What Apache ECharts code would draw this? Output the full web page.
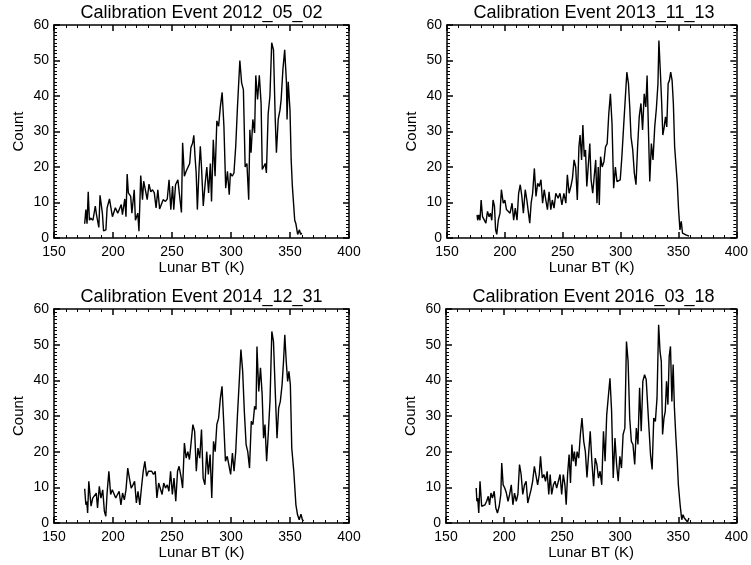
<!DOCTYPE html>
<html>
<head>
<meta charset="utf-8">
<script src="https://cdn.jsdelivr.net/npm/echarts@6/dist/echarts.min.js"></script>
<style>
  html, body { margin: 0; padding: 0; background: #fff; }
  #main { width: 751px; height: 565px; }
</style>
</head>
<body>
<div id="main"></div>
<script>
// panel titles
var titles = ['Calibration Event 2012_05_02', 'Calibration Event 2013_11_13',
              'Calibration Event 2014_12_31', 'Calibration Event 2016_03_18'];
var xTicks = [150, 400, 50];   // min, max, step (Lunar BT, K)
var yTicks = [0, 60, 10];      // min, max, step (Count)

// [Lunar BT (K), Count]
var ev2012 = [[176,4],[177,8],[178,4],[179,13],[180,5],[181,5.6],[183,5],[185,9],[186,6.6],[188,3],[189,12],[191,7],[192,2],[194,2.3],[195,8.5],[197,11],[199.5,6],[202,8.5],[204,7],[207,9.4],[208,6.6],[210,11],[211,6],[212,18],[213,12.7],[215,11.7],[216,7],[218,13.6],[219,5],[221,7],[222,1.9],[223.5,17.6],[225,10.8],[226,16],[227.5,15.5],[229,10.8],[230.5,15.2],[232,13],[233.5,13.6],[235,12.7],[236.5,8.5],[238,13.6],[239.5,8.2],[241,8],[242.5,10.8],[244.5,10.3],[246,11],[247.5,16.4],[249,8],[250.5,14.6],[251.5,8],[253,15],[255,16.4],[256.5,11.7],[258,7.2],[259,26.8],[260.5,17.4],[262,18.8],[263.5,18.3],[265,21],[266,25.4],[267.5,26.8],[268.5,28.9],[269.5,23],[270.5,18.3],[271.5,8],[273,20],[274,25.8],[275,20],[276.5,9],[278,15],[279.5,20],[281,12.7],[282.5,21],[283.5,10.3],[285,27.7],[286.5,17.4],[288,33],[289.5,31.5],[291,37],[292.5,41],[294,31.5],[295.5,14],[297,18.8],[298.5,12.2],[299.5,18.3],[301,17.4],[302.5,18.3],[304,25.8],[305.5,37],[307.5,50],[309,43.7],[310.5,41.8],[312,20],[313.5,21],[315,10.8],[316,30.5],[317,24],[318.5,33.4],[320,29.6],[321,45.8],[322.5,39],[324,45.8],[325.5,38],[326.5,19.3],[329,21],[330,18.3],[331.5,35],[333,40],[334.5,55],[336,53],[337.5,33.4],[338.5,24],[340,33.4],[341.5,36],[342.5,39],[344,47.5],[345.5,53],[347,43.7],[347.5,33.4],[348.5,44],[350,36],[351,22],[352,14.6],[354,5],[355,4],[356.5,1],[358,2.3],[359,1],[360,1.4]];

var ev2013 = [[176,6.5],[176.5,5],[177.5,6.5],[178.5,5],[179.5,10.7],[180.7,6],[182,5.6],[183.6,4.2],[185,7.5],[186.4,6],[187.5,7],[188.7,5],[189.8,10.7],[191,9],[192,2.3],[193,1],[194.3,5],[195.8,7],[197,13.6],[198.6,9.8],[200,10.7],[201.4,8],[202.8,8.4],[204.5,7],[206.2,9.8],[207.6,5],[209,8.4],[210.5,5],[211.9,12.6],[213.3,15],[214.7,11.7],[216,7],[217.6,13.6],[219,10.7],[220.4,7],[221.5,4.2],[222.7,9.8],[224,12.6],[225.5,19.6],[226.9,11.7],[228.3,15.4],[229.7,14.5],[231.2,16.4],[232.6,9.8],[234,13.6],[235.4,10.7],[236.8,8],[238.2,13],[239.7,8],[241,10.7],[242.5,8.4],[244,12.6],[246,11.2],[247.6,12.6],[249.3,9.3],[251,12.6],[252.7,9.8],[254,17.8],[255.5,12.6],[257,14.5],[258.4,16.8],[259.8,22],[261.2,20],[262.6,10.7],[264,25.7],[265,29],[266.3,22],[267.4,31.8],[268.6,22.9],[269.7,24.8],[270.8,14.5],[272.2,21],[273.4,26.6],[274.5,16.4],[275.9,12.6],[277.3,13],[278.5,22],[279.6,9.8],[280.7,20],[281.6,9.3],[282.7,22.9],[284.1,20],[285.6,21.5],[287,25.7],[288.4,26.6],[289.8,35],[291.2,40.6],[292.6,32.2],[294,14],[295.5,20],[296.9,15.9],[298.3,15.9],[299.7,16.4],[301.1,22.9],[302.6,31.3],[304,31.3],[305.4,46.7],[306.8,43.5],[307.9,36.9],[309,28.5],[310.5,24.8],[311.9,18.2],[313.3,15],[314.7,25.7],[316.1,34.1],[317.6,37.9],[319,30.4],[320.4,40.6],[321.8,36.9],[322.9,45.8],[324,31.3],[325.2,15.9],[326.6,26.6],[328,22],[329.5,31.3],[330.9,36.4],[332.3,43.5],[333.1,55.6],[334.3,47.2],[335.4,38.8],[336.5,29],[337.7,31.3],[338.8,34.1],[339.9,31.3],[341.1,43.5],[342.2,44.4],[343.3,46.7],[344.5,44.4],[345.6,37.9],[346.7,25.7],[347.9,25.2],[349,15.4],[350.1,8],[351.3,2.3],[352.4,4.7],[353.5,1.4],[355.2,1.9],[356.4,0.9],[358,1.4],[359.2,0.5]];

var ev2014 = [[176,9.6],[177,5.1],[177.8,6],[178.5,2.8],[179.5,11.7],[180.5,8],[181.4,4.7],[182.8,7],[184.3,6.5],[185.8,8.4],[186.9,4.2],[188.4,10.3],[189.8,7],[191.3,9.3],[192.7,3.3],[193.9,1.9],[195,8.4],[196.5,14.5],[198,8],[199.4,9.3],[200.9,9.8],[202.3,7],[203.8,7],[205.2,8.9],[206.7,5.1],[208.1,8.4],[209.6,6.5],[211,9.3],[212.5,15.4],[213.9,12.6],[215.4,9.8],[216.9,10.7],[218.3,11.7],[219.8,5.6],[221.2,8.9],[222.7,5.1],[224.1,9.8],[225.6,14.5],[227,17.3],[228.5,13.1],[230,14.5],[231.4,14],[232.8,14.5],[234.3,13.6],[235.8,14.5],[237.2,7],[238.7,11.2],[240.1,10.7],[241.6,8],[243,11.2],[244.5,9.8],[246,10.7],[247.4,8.9],[248.8,14.5],[250.3,8],[251.7,12.6],[253.2,6.1],[254.7,14.5],[256,15.9],[257.6,13.1],[259,9.8],[260.5,22.4],[262,18.2],[263.4,20],[264.8,17.8],[266.3,22.9],[267.7,27.6],[269.2,25.7],[270.6,14.5],[272,21],[273.5,18.2],[275,26.2],[276.4,12.6],[277.9,10.7],[279.4,20],[280.8,13.6],[282.3,19.2],[283.7,7],[285.2,22.9],[286.6,20],[288,27.6],[289.5,29.4],[291,35],[292.4,38.3],[293.9,27.6],[295.3,17.3],[296.8,18.7],[298.3,18.2],[299.7,13.6],[301.2,19.6],[302.6,14.5],[304,20],[305.5,30.4],[307,39.7],[308.4,48.6],[309.9,42.5],[311.3,31.3],[312.8,22],[314.2,20],[315.7,15.4],[317.2,28.5],[318.6,27.6],[320,32.7],[321.2,31.8],[322,49.5],[323.5,36.9],[325,43.5],[326.4,36],[327.6,23.8],[328.8,27.6],[330.2,17.3],[331.7,25.7],[333.1,34.6],[334.6,53.7],[336,50.9],[337.5,36.9],[339,23.8],[340.4,32.2],[341.8,34.1],[343.3,38.8],[344.5,45.3],[345.6,52.8],[346.8,45.3],[348,39.7],[349.1,42.5],[350.3,38.8],[351.5,21],[353.2,14.5],[355,5.1],[356.4,2.3],[357.8,0.9],[359.3,2.5],[360.5,0.9],[361.5,0.6]];

var ev2016 = [[176,9.8],[176.6,6.1],[177.3,7],[178.2,2.8],[179.3,11.7],[180.7,4.7],[182.2,4.7],[183.6,5.1],[185,6.1],[186.4,7.5],[187.5,5.1],[188.7,8.4],[190,7],[191.5,8.9],[192.9,4.2],[194.3,2.8],[195.8,4.7],[197.2,8],[198,16.8],[199.2,10.7],[200.6,9.8],[202,8.4],[203.4,6.1],[204.8,8],[206.2,10.7],[207.6,5.1],[209,8.4],[210.5,6.1],[211.9,8],[213.3,16.4],[214.7,13.6],[216.1,8],[217.6,10.7],[219,11.7],[220.4,5.6],[221.8,6.1],[223.2,9.3],[224.6,11.7],[226.1,15.9],[227.5,15.9],[228.9,10.7],[230.3,13.6],[231.4,18.7],[232.9,12.6],[234.3,13.6],[235.7,11.7],[237.1,14.5],[238.5,8],[239.7,13.6],[241,8],[242.5,10.7],[243.9,11.7],[245.3,9.8],[246.7,9.8],[248.2,13.6],[249.6,8],[251,13.6],[252.4,10.7],[253.5,5.1],[254.7,13.6],[256,19.2],[257.2,11.2],[258.4,22],[259.5,17.3],[260.6,20],[261.8,15.9],[262.9,20],[264.3,18.2],[265.7,24.8],[267.1,29.4],[268.6,22.9],[270,20],[271.4,12.8],[272.8,12.8],[274.2,25.7],[275.6,17.3],[277.1,10.3],[278.5,18.2],[279.9,16.4],[281.3,12.6],[282.7,14.5],[284.1,10.7],[285.6,25.7],[287,17.3],[288.4,30.4],[289.8,30.4],[291.2,40.6],[292.6,31.3],[294,12.6],[295.5,23.8],[296.9,16.4],[298.3,11.7],[299.7,18.7],[301.1,15.4],[302.5,24.8],[304,26.6],[305.4,50.9],[306.8,45.3],[308.2,29.4],[309.6,22.9],[311,22],[312.5,16.4],[313.9,26.6],[315.3,22],[316.7,37.9],[318.1,25.7],[319.5,39.7],[321,41.6],[322.4,40.2],[323.5,40.6],[324.6,27.6],[326.1,19.2],[327.5,15],[328.9,29.4],[330.3,28.5],[331.7,35],[333.1,55.6],[334.3,48.1],[335.4,45.3],[336.5,24.8],[337.7,29.4],[338.8,31.3],[339.9,39.7],[341.1,33.2],[342.2,46.7],[343.3,49.5],[344.5,34.1],[345.6,44.4],[346.7,32.2],[347.9,24.3],[349,18.2],[350.1,10.7],[351.6,5.1],[353,0.9],[354.1,2.3],[355.2,1.4],[356.4,1.9],[358,0.3],[359.2,1.4]];

var panels = [ev2012, ev2013, ev2014, ev2016];

var font = '"Liberation Sans", Arial, sans-serif';
var grids = [
    {left: 54,  top: 25,  width: 295, height: 213},
    {left: 447, top: 25,  width: 294, height: 213},
    {left: 54,  top: 309, width: 295, height: 214},
    {left: 446, top: 309, width: 295, height: 214}
];

var lineBlack = {color: '#000', width: 1.5};
function axisCommon(ext, minorSplit) {
    return {
        type: 'value', min: ext[0], max: ext[1], interval: ext[2],
        splitLine: {show: false},
        axisLine: {show: true, onZero: false, lineStyle: lineBlack},
        axisTick: {show: true, inside: true, length: 6, lineStyle: lineBlack},
        minorTick: {show: true, splitNumber: minorSplit, length: 3, lineStyle: {color: '#000', width: 1}}
    };
}

var xAxes = [], yAxes = [], series = [], graphic = [];
grids.forEach(function (g, i) {
    var bx = axisCommon(xTicks, 5);
    bx.gridIndex = i; bx.position = 'bottom';
    bx.name = 'Lunar BT (K)'; bx.nameLocation = 'middle'; bx.nameGap = 22;
    bx.nameTextStyle = {fontFamily: font, fontSize: 15, color: '#000'};
    bx.axisLabel = {margin: 7, fontFamily: font, fontSize: 14, color: '#000'};
    var tx = axisCommon(xTicks, 5);
    tx.gridIndex = i; tx.position = 'top'; tx.axisLabel = {show: false};
    xAxes.push(bx, tx);

    var ly = axisCommon(yTicks, 10);
    ly.gridIndex = i; ly.position = 'left';
    ly.name = 'Count'; ly.nameLocation = 'middle'; ly.nameGap = 28;
    ly.nameTextStyle = {fontFamily: font, fontSize: 15, color: '#000'};
    ly.axisLabel = {margin: 5, fontFamily: font, fontSize: 14, color: '#000'};
    var ry = axisCommon(yTicks, 10);
    ry.gridIndex = i; ry.position = 'right'; ry.axisLabel = {show: false};
    yAxes.push(ly, ry);

    series.push({
        type: 'line', xAxisIndex: 2 * i, yAxisIndex: 2 * i,
        data: panels[i], showSymbol: false, symbol: 'none',
        lineStyle: {color: '#000', width: 1.4}
    });

    graphic.push({
        type: 'text', x: g.left + g.width / 2, y: g.top - 12,
        style: {text: titles[i], fill: '#000', fontSize: 18, fontFamily: font,
                align: 'center', verticalAlign: 'middle'}
    });
});

var myChart = echarts.init(document.getElementById('main'));
myChart.setOption({
    animation: false,
    backgroundColor: '#fff',
    grid: grids,
    xAxis: xAxes,
    yAxis: yAxes,
    series: series,
    graphic: graphic
});
</script>
</body>
</html>
